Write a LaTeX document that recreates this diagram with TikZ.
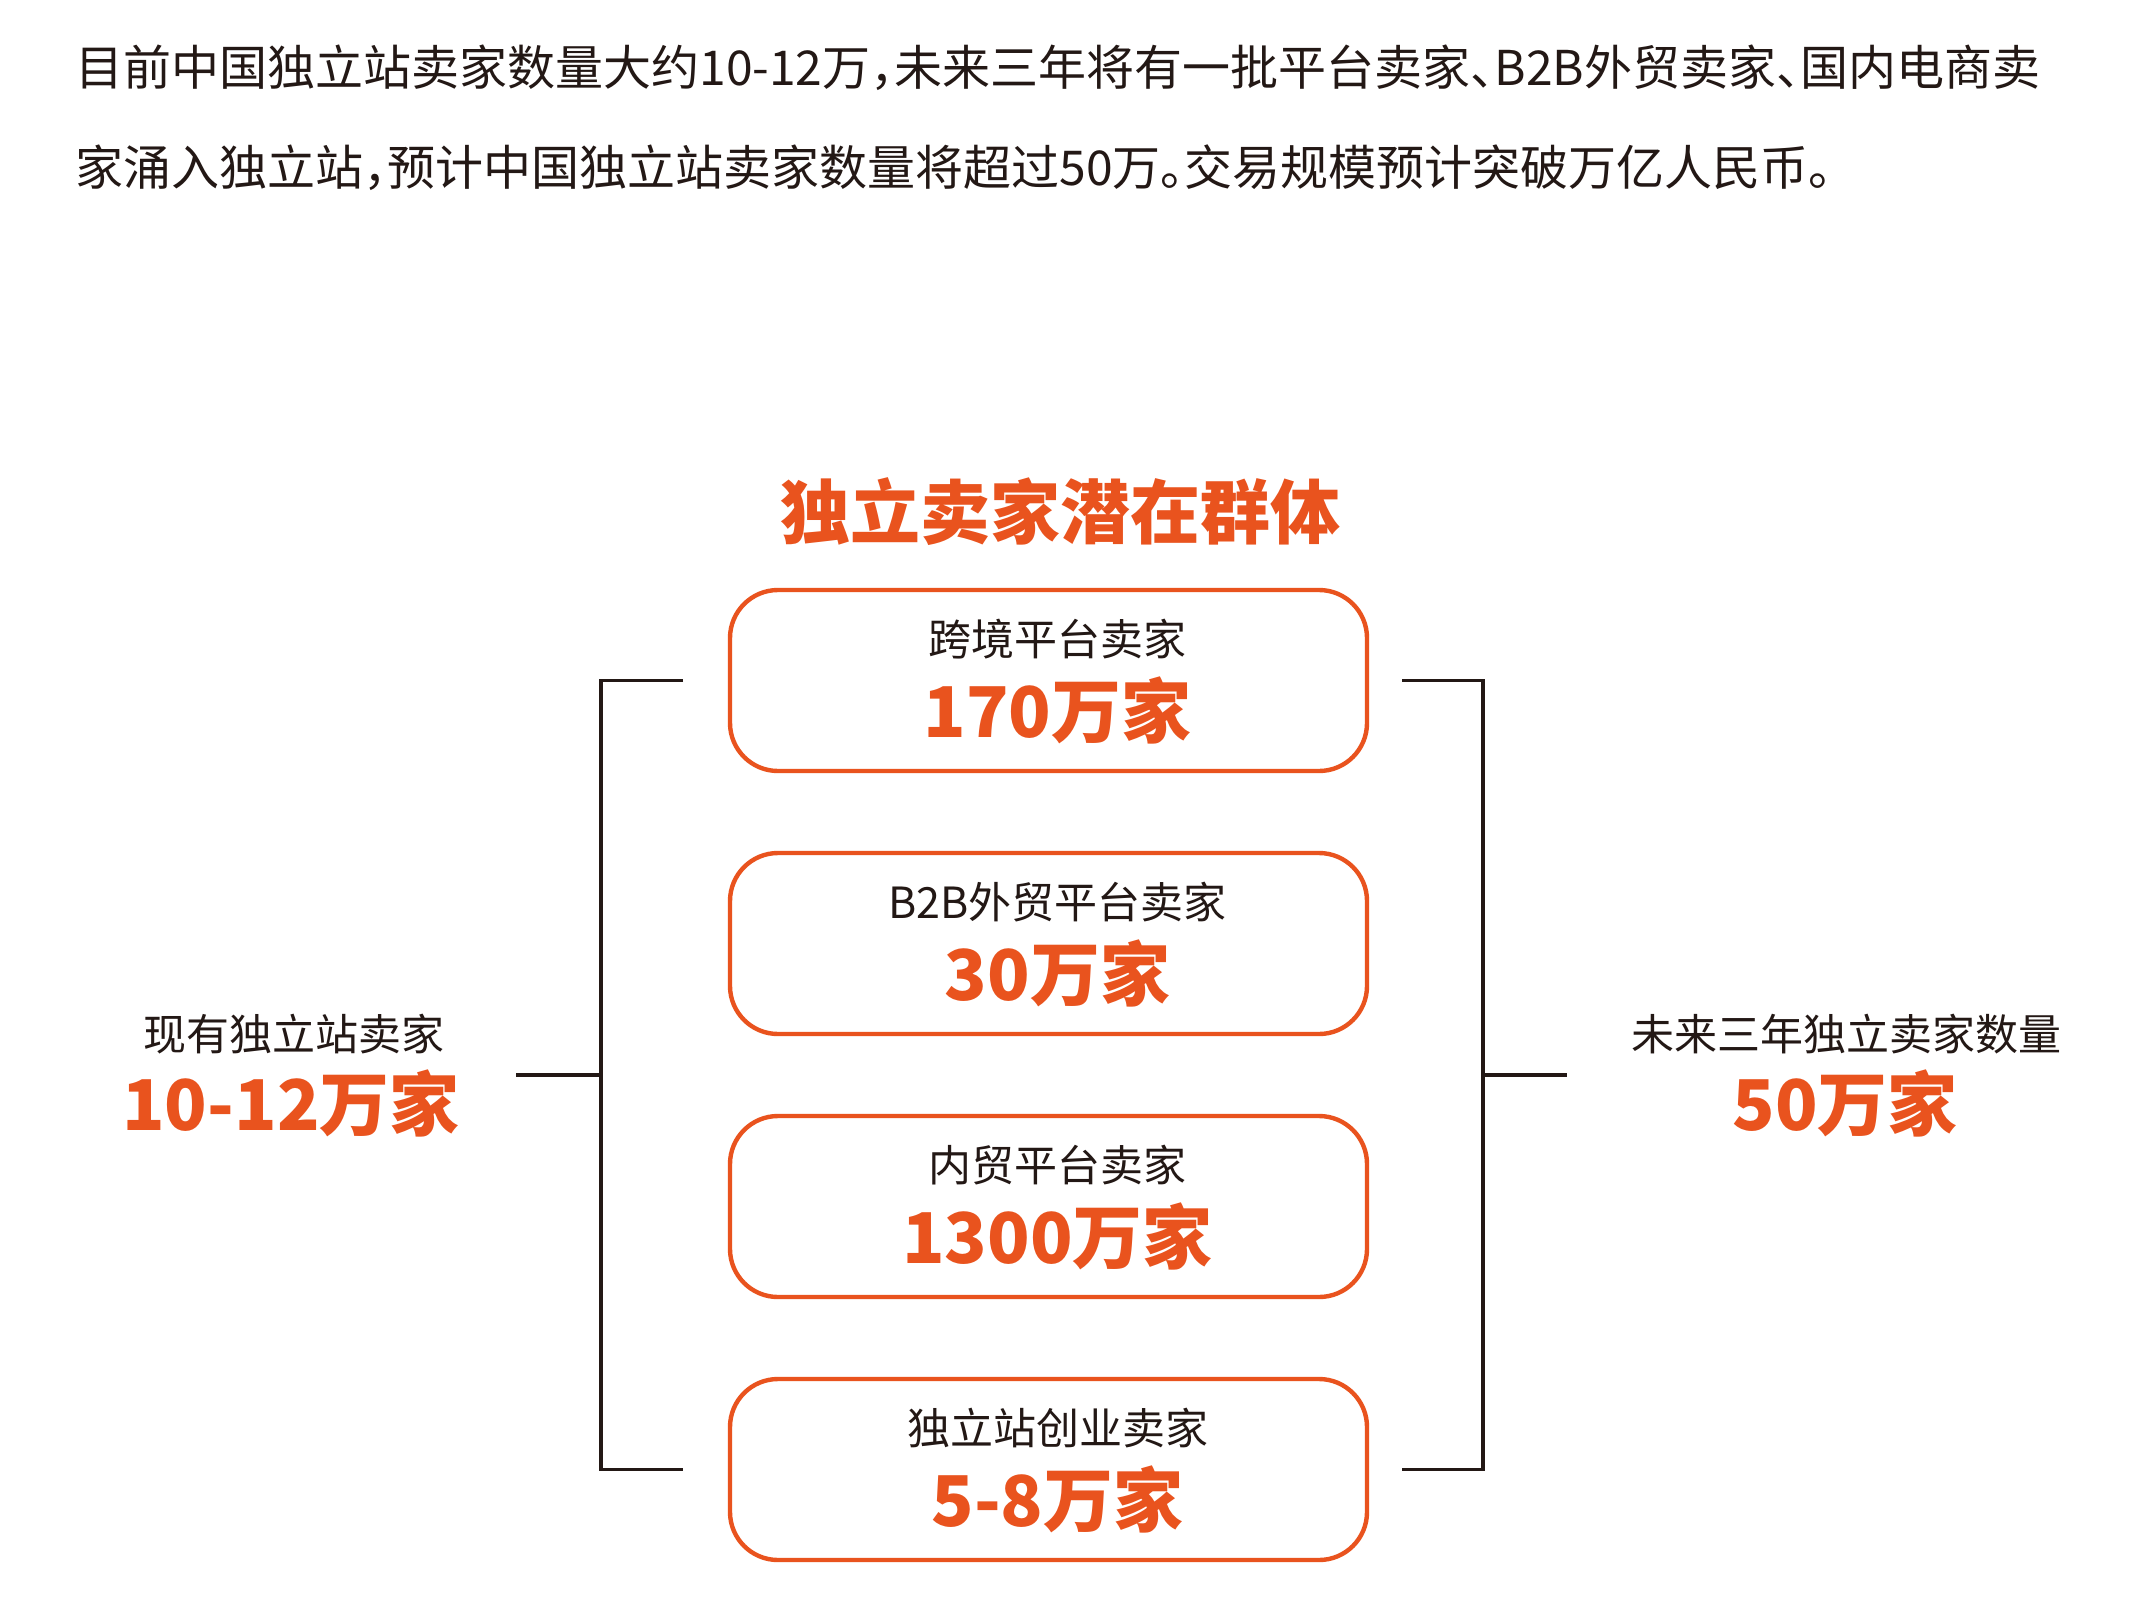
\documentclass[tikz,border=0pt]{standalone}
\usepackage{fontspec}
\setmainfont{Noto Sans CJK SC}
\usepackage{tikz}
\usetikzlibrary{positioning}
\usepackage{xcolor}
\definecolor{accent}{HTML}{E9531E}
\definecolor{ink}{HTML}{231815}

\begin{document}
\begin{tikzpicture}[x=0.5pt,y=-0.5pt,node distance=38.8pt,
  groupbox/.style={draw=accent,line width=2.2pt,rounded corners=24pt,minimum width=318.5pt,minimum height=90.5pt,inner sep=0pt},
  namelabel/.style={text=ink,inner sep=0pt,font=\fontsize{21.5pt}{26pt}\selectfont},
  countlabel/.style={text=accent,inner sep=0pt,font=\bfseries\fontsize{35pt}{40pt}\selectfont},
  boxname/.style={namelabel,xshift=4.5pt,yshift=20.5pt},
  boxcount/.style={countlabel,xshift=4.5pt,yshift=-15pt},
  intro/.style={text=ink,anchor=west,inner sep=0pt,font=\addfontfeatures{RawFeature=+halt}\fontsize{24pt}{28pt}\selectfont},
  joint/.style={draw=ink,line width=1.8pt}]
\fill[white] (0,0) rectangle (2141,1622);
\useasboundingbox (0,0) rectangle (2141,1622);

\node[intro] (p1) at (75,68) {目前中国独立站卖家数量大约10-12万，未来三年将有一批平台卖家、B2B外贸卖家、国内电商卖};
\node[intro] (p2) at (75,168) {家涌入独立站，预计中国独立站卖家数量将超过50万。交易规模预计突破万亿人民币。};

\node[countlabel] (head) at (1060,512) {独立卖家潜在群体};

\node[groupbox] (b1) at (1048.5,680.5) {};
\node[groupbox] (b2) [below=of b1] {};
\node[groupbox] (b3) [below=of b2] {};
\node[groupbox] (b4) [below=of b3] {};

\node[boxname] (n1) at (b1) {跨境平台卖家};
\node[boxcount] (c1) at (b1) {170万家};
\node[boxname] (n2) at (b2) {B2B外贸平台卖家};
\node[boxcount] (c2) at (b2) {30万家};
\node[boxname] (n3) at (b3) {内贸平台卖家};
\node[boxcount] (c3) at (b3) {1300万家};
\node[boxname] (n4) at (b4) {独立站创业卖家};
\node[boxcount] (c4) at (b4) {5-8万家};

\node[namelabel] (now) at (294,1034) {现有独立站卖家};
\node[countlabel] (nowcount) at (291,1103) {10-12万家};
\node[namelabel] (future) at (1846,1034) {未来三年独立卖家数量};
\node[countlabel] (futurecount) at (1845,1103) {50万家};

% brackets
\coordinate (lt) at (683,680.5);
\coordinate (lb) at (683,1469.5);
\coordinate (lspine) at (601,1075);
\coordinate (lfree) at (516,1075);
\coordinate (rt) at (1402,680.5);
\coordinate (rb) at (1402,1469.5);
\coordinate (rspine) at (1483,1075);
\coordinate (rfree) at (1567,1075);
\draw[joint] (lt) -| (lspine) |- (lb);
\draw[joint] (lfree) -- (lspine);
\draw[joint] (rt) -| (rspine) |- (rb);
\draw[joint] (rspine) -- (rfree);
\end{tikzpicture}
\end{document}
